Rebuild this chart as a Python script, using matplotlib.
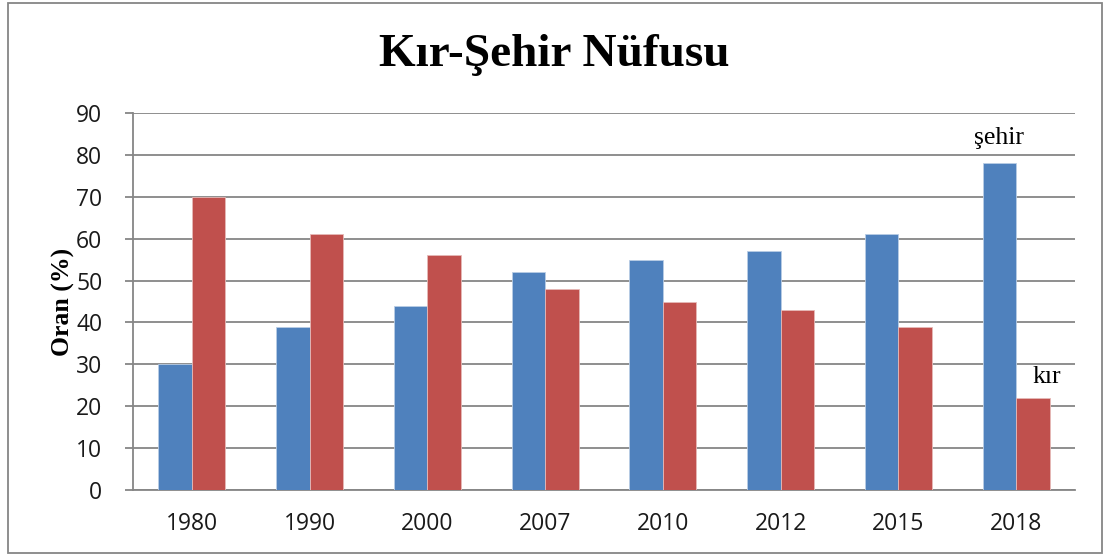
import matplotlib.pyplot as plt
import numpy as np
from matplotlib.patches import Rectangle

years = ["1980", "1990", "2000", "2007", "2010", "2012", "2015", "2018"]
sehir = [30, 39, 44, 52, 55, 57, 61, 78]
kir = [70, 61, 56, 48, 45, 43, 39, 22]

blue = "#4f81bd"
red = "#c0504d"
grid_gray = "#868686"

fig = plt.figure(figsize=(11.09, 5.56), dpi=100)
ax = fig.add_axes([133 / 1109, 1 - 490 / 556, (1075 - 133) / 1109, (490 - 113) / 556])

x = np.arange(len(years))
w = 0.285
ax.bar(x - w / 2, sehir, w, color=blue, edgecolor="#b9cde5", linewidth=0.6, zorder=3)
ax.bar(x + w / 2, kir, w, color=red, edgecolor="#e6b9b8", linewidth=0.6, zorder=3)

ax.set_xlim(-0.5, len(years) - 0.5)
ax.set_ylim(0, 90)
ax.set_yticks(range(0, 91, 10))
ax.set_xticks(x)
ax.set_xticklabels(years)
ax.yaxis.grid(True, color=grid_gray, linewidth=1.3, zorder=0)
ax.set_axisbelow(True)

for s in ["top", "right"]:
    ax.spines[s].set_visible(False)
for s in ["left", "bottom"]:
    ax.spines[s].set_color(grid_gray)
    ax.spines[s].set_linewidth(1.3)

ax.tick_params(axis="y", length=6, color=grid_gray, width=1.3, pad=16)
ax.tick_params(axis="x", length=0, pad=16)
for lbl in ax.get_xticklabels() + ax.get_yticklabels():
    lbl.set_fontfamily("Open Sans")
    lbl.set_fontsize(16.5)
    lbl.set_color("#1a1a1a")

ax.set_ylabel("Oran (%)", fontfamily="Liberation Serif", fontweight="bold",
              fontsize=18.5, labelpad=1)

# series labels next to the 2018 bars
ax.text(x[-1] - w / 2, sehir[-1] + 4.5, "şehir", fontfamily="Liberation Serif",
        fontsize=18.5, ha="center", va="baseline")
ax.text(x[-1] + w / 2 + 0.12, kir[-1] + 3.5, "kır", fontfamily="Liberation Serif",
        fontsize=18.5, ha="center", va="baseline")

fig.text(0.5, 1 - 55 / 556, "Kır-Şehir Nüfusu", fontfamily="Liberation Serif",
         fontweight="bold", fontsize=34, ha="center", va="center")

fig.patches.append(Rectangle((8 / 1109, 3 / 556), (1102 - 8) / 1109, (553 - 3) / 556,
                             transform=fig.transFigure, fill=False,
                             edgecolor=grid_gray, linewidth=1.3))

fig.savefig("out.png", dpi=100)
